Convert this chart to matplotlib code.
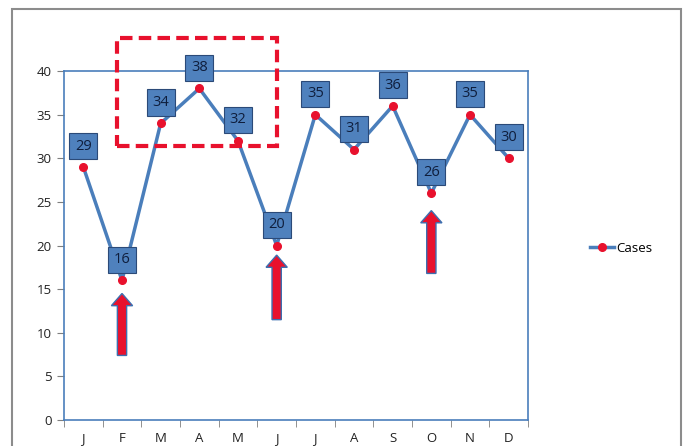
import matplotlib
matplotlib.use("Agg")
import matplotlib.pyplot as plt
from matplotlib.patches import Rectangle, FancyArrow
from matplotlib.lines import Line2D

months = ["J", "F", "M", "A", "M", "J", "J", "A", "S", "O", "N", "D"]
cases = [29, 16, 34, 38, 32, 20, 35, 31, 36, 26, 35, 30]
arrow_months = [1, 5, 9]
arrow_bottoms = [7.4, 11.5, 16.8]
arrow_tips = [14.5, 18.9, 24.0]
box_x = [0.87, 5.02]
box_y = [31.4, 43.8]

plt.rcParams['font.family'] = ['Open Sans', 'DejaVu Sans']

fig = plt.figure(figsize=(6.84, 4.46), dpi=100)
ax = fig.add_axes([64/684, 1-420/446, (528-64)/684, (420-71)/446])

blue = "#4A7EBB"
xs = list(range(len(months)))
ax.plot(xs, cases, color=blue, lw=2.5, marker="o", markersize=5.5,
        markerfacecolor="#E8112D", markeredgecolor="#E8112D", zorder=3, label="Cases")

for x, v in zip(xs, cases):
    ax.annotate(str(v), (x, v), xytext=(0, 15), textcoords="offset points",
                ha="center", va="center", fontsize=10.5, color="#0F1E3C",
                bbox=dict(boxstyle="square,pad=0.38", fc="#4F81BD", ec="#2B4A78", lw=0.8),
                zorder=5)

# arrows
for m, b, t in zip(arrow_months, arrow_bottoms, arrow_tips):
    ax.add_patch(FancyArrow(m, b, 0, t - b, width=0.24, head_width=0.55,
                            head_length=1.4, length_includes_head=True,
                            fc="#E8112D", ec="#3C6FB0", lw=1.0, zorder=4))

# dashed box
ax.add_patch(Rectangle((box_x[0], box_y[0]), box_x[1]-box_x[0], box_y[1]-box_y[0],
                       fill=False, ec="#E8112D", lw=3, ls=(0, (3, 1.5)),
                       clip_on=False, zorder=6))

ax.set_xlim(-0.5, 11.5)
ax.set_ylim(0, 40)
ax.set_yticks(range(0, 41, 5))
ax.set_xticks(xs)
ax.set_xticklabels(months)
ax.set_xticks([i - 0.5 for i in range(13)], minor=True)
ax.tick_params(axis="x", which="major", length=0, pad=9, labelsize=9.5, colors="#222222")
ax.tick_params(axis="x", which="minor", length=5, color="#7F7F7F", direction="out")
ax.tick_params(axis="y", length=5, color="#7F7F7F", labelsize=9.5, labelcolor="#222222", pad=4)
for s in ax.spines.values():
    s.set_color(blue)
    s.set_linewidth(1.2)

handle = Line2D([], [], color=blue, lw=2.5, marker="o", markersize=5.5,
                markerfacecolor="#E8112D", markeredgecolor="#E8112D")
fig.legend([handle], ["Cases"], loc="center left", bbox_to_anchor=(578/684, 1-248/446),
           frameon=False, fontsize=9.5, handlelength=1.8, handletextpad=0.2)

# outer border
fig.patches.append(Rectangle((12/684, -0.05), (681-12)/684, (1-9/446)+0.05,
                             transform=fig.transFigure, fill=False, ec="#8C8C8C", lw=1.5))

fig.savefig("out.png", dpi=100)
